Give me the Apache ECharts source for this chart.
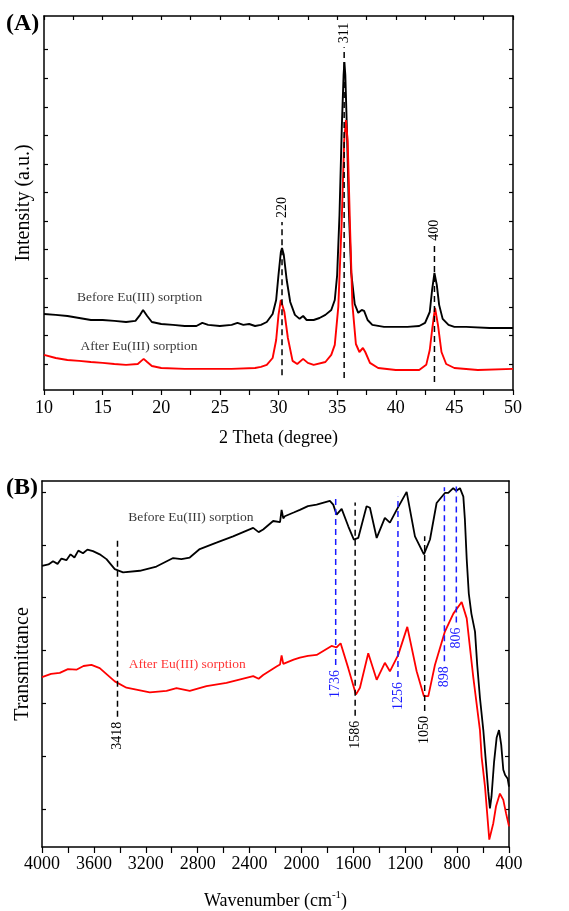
<!DOCTYPE html>
<html><head><meta charset="utf-8">
<script src="https://cdn.jsdelivr.net/npm/echarts@6/dist/echarts.min.js"></script>
<style>html,body{margin:0;padding:0;background:#fff}#c{width:569px;height:911px}</style>
</head><body><div id="c"></div>
<script>
// ---------- Panel A : XRD ----------
const xrdBeforeTheta = [10,11,12,13,14,15,16,17,17.8,18.2,18.45,18.8,19.2,20,21,22,23,23.5,24,25,26,26.5,27,27.5,28,28.5,29,29.5,29.8,30.0,30.2,30.3,30.45,30.7,31,31.4,31.8,32.1,32.4,33,33.5,34,34.5,34.8,35.0,35.2,35.4,35.55,35.62,35.7,35.85,36.0,36.2,36.5,36.8,37.1,37.3,37.6,38,39,40,41,42,42.5,42.9,43.1,43.3,43.5,43.7,44,44.5,45,46,48,50];
const xrdBeforeIntensity = [275,272,268,261,254,254,251,247,251,272,289,268,247,240,237,233,233,244,237,233,237,244,237,240,233,237,247,275,324,412,492,506,482,394,317,272,258,268,254,254,261,272,289,324,410,620,930,1110,1157,1110,900,640,420,310,279,289,286,254,237,230,230,230,233,244,282,359,419,377,307,258,237,230,230,226,226];
const xrdAfterTheta = [10,11,12,13,14,15,16,17,18,18.3,18.5,18.8,19.2,20,22,24,26,28,28.5,29,29.5,29.8,30.0,30.2,30.35,30.5,30.8,31.2,31.6,32.1,32.5,33,34,34.5,34.8,35.1,35.4,35.6,35.75,35.9,36.1,36.3,36.6,36.9,37.2,37.4,37.8,38.5,40,42,42.6,42.9,43.1,43.35,43.6,43.9,44.3,45,47,50];
const xrdAfterIntensity = [132,121,114,111,107,104,100,97,100,111,118,107,93,86,83,83,83,86,90,97,121,184,272,324,317,282,191,111,100,118,104,97,107,132,167,300,610,880,954,880,580,310,170,142,156,142,104,86,79,79,97,149,219,296,237,142,100,86,79,83];
const xrdPeakPos = [30.3, 35.6, 43.3];
const xrdPeakLabels = ['220', '311', '400'];
const xrdPeakTop = [597, 1209, 517];
const xrdPeakBottom = [61, 51, 37];
const xrdTickValues = [100,200,300,400,500,600,700,800,900,1000,1100,1200];

// ---------- Panel B : FTIR ----------
const ftirBeforeWave = [4000,3950,3915,3880,3850,3812,3780,3750,3720,3684,3650,3607,3555,3503,3439,3375,3246,3118,2989,2925,2861,2784,2655,2527,2372,2330,2295,2218,2165,2153,2140,2128,2060,2012,1950,1883,1781,1755,1729,1690,1639,1596,1562,1498,1472,1420,1357,1318,1266,1189,1125,1056,1009,958,894,868,830,806,778,752,740,726,710,690,662,645,624,598,577,560,547,535,515,495,477,460,444,430,423,410,400];
const ftirBeforeT = [56.0,56.3,56.9,56.4,57.4,57.1,58.2,57.6,58.9,58.4,59.1,58.8,58.2,57.3,55.4,54.8,55.1,55.9,57.5,57.3,57.6,59.2,60.4,61.6,63.2,62.4,62.9,64.5,64.3,66.6,65.0,65.4,66.1,66.6,67.3,67.6,68.3,67.6,65.7,66.8,63.5,61.0,61.3,67.3,67.0,61.3,65.1,64.2,66.6,70.0,61.6,58.2,61.0,67.9,69.8,69.8,70.7,70.2,70.7,69.1,64.8,57.3,50.8,47.0,43.6,37.3,31.1,25.0,18.6,13.4,10.2,12.4,19.0,23.6,25.0,22.2,17.5,16.5,16.7,15.8,14.3];
const ftirAfterWave = [4000,3930,3863,3800,3735,3680,3619,3555,3439,3349,3169,3040,2963,2861,2732,2578,2372,2330,2295,2192,2165,2153,2140,2128,2060,2012,1950,1883,1768,1729,1698,1639,1580,1549,1485,1420,1357,1318,1254,1184,1112,1056,1022,971,894,829,765,726,675,624,611,585,552,521,500,470,444,423,400];
const ftirAfterT = [35.0,35.6,35.8,36.5,36.4,37.1,37.3,36.7,34.2,33.0,32.1,32.4,32.9,32.4,33.3,33.9,35.2,34.7,35.4,37.0,37.4,39.1,37.5,37.7,38.3,38.7,39.0,39.2,40.9,40.6,41.4,36.7,31.7,33.0,39.5,34.5,37.7,36.1,39.2,44.5,36.1,31.4,31.4,37.3,43.6,47.0,49.2,46.1,34.9,25.0,19.9,14.3,4.3,7.4,10.6,13.0,11.8,9.3,6.8];
const ftirBlackBands = [3418, 1586, 1050];
const ftirBlackTop = [61.0, 68.0, 61.6];
const ftirBlackBottom = [27.5, 27.7, 28.6];
const ftirBlueBands = [1736, 1256, 898, 806];
const ftirBlueTop = [69.1, 69.1, 70.9, 71.3];
const ftirBlueBottom = [37.3, 35.0, 38.0, 45.3];
const ftirTickValues = [10,20,30,40,50,60,70];

// ---------- chart ----------
const FONT = '"Liberation Serif","Times New Roman",serif';
const pairs = (xs, ys) => xs.map((x, i) => [x, ys[i]]);
const chart = echarts.init(document.getElementById('c'), null, {renderer: 'canvas'});

const axLine = {show: true, onZero: false, lineStyle: {color: '#000', width: 1.5}};
function frameAxis(extra) {
  return Object.assign({
    type: 'value', axisLine: axLine, splitLine: {show: false},
    axisTick: {show: true, inside: true, length: 4, lineStyle: {color: '#000', width: 1.2}},
    axisLabel: {show: false}
  }, extra);
}
function yTick(vals) {
  return {show: true, inside: true, length: 4, customValues: vals, lineStyle: {color: '#000', width: 1.2}};
}

const series = [];
series.push({type: 'line', xAxisIndex: 0, yAxisIndex: 0, data: pairs(xrdBeforeTheta, xrdBeforeIntensity),
  symbol: 'none', lineStyle: {color: '#000', width: 1.9}, z: 3});
series.push({type: 'line', xAxisIndex: 0, yAxisIndex: 0, data: pairs(xrdAfterTheta, xrdAfterIntensity),
  symbol: 'none', lineStyle: {color: '#ff0000', width: 1.9}, z: 3});
xrdPeakPos.forEach((p, i) => {
  series.push({type: 'line', xAxisIndex: 0, yAxisIndex: 0, z: 4,
    symbol: 'circle', symbolSize: 0, showSymbol: true, itemStyle: {color: '#000'},
    lineStyle: {color: '#000', width: 1.5, type: [6, 4]},
    data: [[p, xrdPeakBottom[i]], {value: [p, xrdPeakTop[i]], label: {
      show: true, formatter: xrdPeakLabels[i], position: 'top', distance: 4, rotate: 90,
      align: 'left', verticalAlign: 'middle', fontFamily: FONT, fontSize: 14, color: '#000'}}]
  });
});
series.push({type: 'line', xAxisIndex: 2, yAxisIndex: 2, data: pairs(ftirBeforeWave, ftirBeforeT),
  symbol: 'none', lineStyle: {color: '#000', width: 1.8}, z: 3});
series.push({type: 'line', xAxisIndex: 2, yAxisIndex: 2, data: pairs(ftirAfterWave, ftirAfterT),
  symbol: 'none', lineStyle: {color: '#ff0000', width: 1.8}, z: 3});
function bandSeries(pos, top, bottom, color) {
  pos.forEach((p, i) => {
    series.push({type: 'line', xAxisIndex: 2, yAxisIndex: 2, z: 4,
      symbol: 'circle', symbolSize: 0, showSymbol: true, itemStyle: {color: color},
      lineStyle: {color: color, width: 1.5, type: [6, 4]},
      data: [{value: [p, bottom[i]], label: {
        show: true, formatter: String(p), position: 'bottom', distance: 5, rotate: 90,
        align: 'right', verticalAlign: 'middle', fontFamily: FONT, fontSize: 14, color: color}},
        [p, top[i]]]
    });
  });
}
bandSeries(ftirBlackBands, ftirBlackTop, ftirBlackBottom, '#000');
bandSeries(ftirBlueBands, ftirBlueTop, ftirBlueBottom, '#1a1aff');

function note(xi, yi, x, y, text, color) {
  series.push({type: 'scatter', xAxisIndex: xi, yAxisIndex: yi, symbolSize: 0, z: 5,
    itemStyle: {color: color},
    data: [{value: [x, y], label: {show: true, position: 'inside', formatter: text,
      fontFamily: FONT, fontSize: 13.5, color: color}}]});
}
note(0, 0, 18.16, 334, 'Before Eu(III) sorption', '#000');
note(0, 0, 18.1, 160, 'After Eu(III) sorption', '#000');
note(2, 2, 2853, 65.1, 'Before Eu(III) sorption', '#000');
note(2, 2, 2880, 37.3, 'After Eu(III) sorption', '#ff0000');

const option = {
  animation: false,
  backgroundColor: '#fff',
  textStyle: {fontFamily: FONT},
  grid: [
    {left: 44, top: 16, width: 469, height: 374},
    {left: 42, top: 481, width: 467, height: 370}
  ],
  xAxis: [
    frameAxis({gridIndex: 0, position: 'bottom', min: 10, max: 50, interval: 5,
      axisTick: {show: true, inside: false, length: 5, lineStyle: {color: '#000', width: 1.2}},
      minorTick: {show: true, splitNumber: 2, length: 5, lineStyle: {color: '#000', width: 1.2}},
      axisLabel: {show: true, fontFamily: FONT, fontSize: 18, color: '#000', margin: 9},
      name: '2 Theta (degree)', nameLocation: 'middle', nameGap: 39,
      nameTextStyle: {fontFamily: FONT, fontSize: 18, color: '#000'}}),
    frameAxis({gridIndex: 0, position: 'top', min: 10, max: 50, interval: 5,
      minorTick: {show: true, splitNumber: 2, length: 4, lineStyle: {color: '#000', width: 1.2}}}),
    frameAxis({gridIndex: 1, position: 'bottom', min: 400, max: 4000, interval: 400, inverse: true,
      axisTick: {show: true, inside: false, length: 6, lineStyle: {color: '#000', width: 1.2}},
      minorTick: {show: true, splitNumber: 2, length: 6, lineStyle: {color: '#000', width: 1.2}},
      axisLabel: {show: true, fontFamily: FONT, fontSize: 18, color: '#000', margin: 8,
        formatter: v => String(v)},
      name: '{a|Wavenumber (cm}{s|-1}{a|)}', nameLocation: 'middle', nameGap: 43,
      nameTextStyle: {fontFamily: FONT, fontSize: 18, color: '#000', rich: {
        a: {fontFamily: FONT, fontSize: 18, color: '#000', lineHeight: 22},
        s: {fontFamily: FONT, fontSize: 11, color: '#000', lineHeight: 22, verticalAlign: 'top'}}}}),
    frameAxis({gridIndex: 1, position: 'top', min: 400, max: 4000, interval: 400, inverse: true,
      axisTick: {show: false}})
  ],
  yAxis: [
    frameAxis({gridIndex: 0, position: 'left', min: 9, max: 1318, axisTick: yTick(xrdTickValues),
      name: 'Intensity (a.u.)', nameLocation: 'middle', nameGap: 10,
      nameTextStyle: {fontFamily: FONT, fontSize: 20, color: '#000'}}),
    frameAxis({gridIndex: 0, position: 'right', min: 9, max: 1318, axisTick: yTick(xrdTickValues)}),
    frameAxis({gridIndex: 1, position: 'left', min: 2.9, max: 72.06, axisTick: yTick(ftirTickValues),
      name: 'Transmittance', nameLocation: 'middle', nameGap: 9,
      nameTextStyle: {fontFamily: FONT, fontSize: 20, color: '#000'}}),
    frameAxis({gridIndex: 1, position: 'right', min: 2.9, max: 72.06, axisTick: yTick(ftirTickValues)})
  ],
  graphic: [
    {type: 'text', left: 6, top: 12, style: {text: '(A)', font: 'bold 24px ' + FONT, fill: '#000'}},
    {type: 'text', left: 6, top: 476, style: {text: '(B)', font: 'bold 24px ' + FONT, fill: '#000'}}
  ],
  series: series
};
chart.setOption(option);
</script>
</body></html>
